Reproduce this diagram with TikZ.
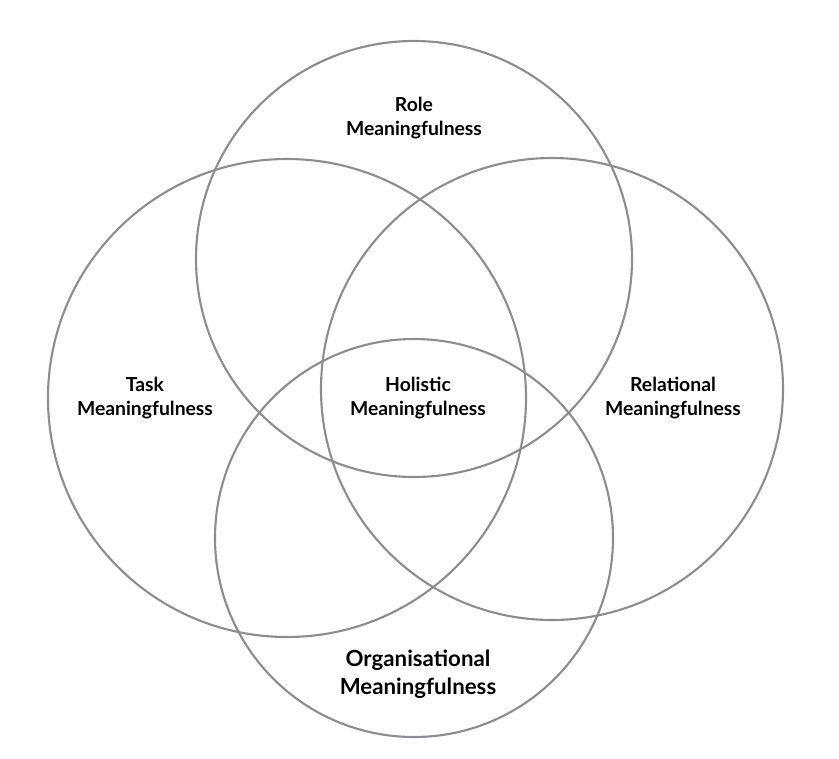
\documentclass[tikz,border=0pt]{standalone}
\usepackage{fontspec}
\setmainfont{Lato}
\definecolor{ringgray}{RGB}{140,140,146}
\begin{document}
\begin{tikzpicture}[x=0.03cm,y=-0.03cm,
    ring/.style={draw=ringgray, line width=1.8pt},
    lbl/.style={align=center, font=\bfseries\fontsize{16.5}{21}\selectfont}]
\useasboundingbox (0,0) rectangle (839,759);

\draw[ring] (414,259) circle (218);
\draw[ring] (287,398) circle (239);
\draw[ring] (552,389) circle (231);
\draw[ring] (414,538) circle (199);

\node[lbl] (role) at (414,118) {Role\\Meaningfulness};
\node[lbl] (task) at (145,398) {Task\\Meaningfulness};
\node[lbl] (rel) at (673,398) {Relational\\Meaningfulness};
\node[lbl] (hol) at (418,398) {Holistic\\Meaningfulness};
\node[lbl, font=\bfseries\fontsize{19}{24}\selectfont] (org) at (418,674) {Organisational\\Meaningfulness};
\end{tikzpicture}
\end{document}
